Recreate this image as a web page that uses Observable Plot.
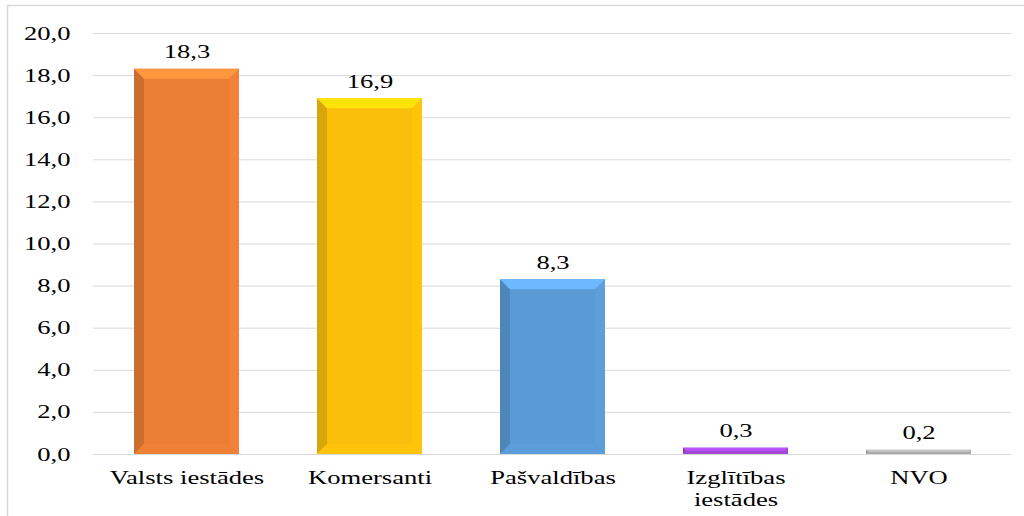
<!DOCTYPE html>
<html>
<head>
<meta charset="utf-8">
<script src="https://cdn.jsdelivr.net/npm/d3@7"></script>
<script src="https://cdn.jsdelivr.net/npm/@observablehq/plot@0.6"></script>
<style>
  html, body { margin: 0; padding: 0; background: #fff; }
  #chart { width: 1024px; height: 516px; overflow: hidden; }
  #chart svg, #chart svg text { font-family: "Liberation Serif", "Times New Roman", serif !important; }
</style>
</head>
<body>
<div id="chart"></div>
<script>
const categories = ["Valsts iestādes", "Komersanti", "Pašvaldības", "Izglītības iestādes", "NVO"];
const values = [18.3, 16.9, 8.3, 0.3, 0.2];
const yTicks = [0, 2, 4, 6, 8, 10, 12, 14, 16, 18, 20];
const palette = ["#EA7E35", "#F9BF0A", "#5B9BD5", "#9E45D0", "#A5A5A5"];

const data = categories.map((c, i) => ({category: c, value: values[i]}));
const fmt = v => d3.format(".1f")(v).replace(".", ",");
const font = "'Liberation Serif', 'Times New Roman', serif";

const plot = Plot.plot({
  width: 1024,
  height: 516,
  marginLeft: 93,
  marginRight: 13,
  marginTop: 33,
  marginBottom: 62,
  style: {fontFamily: font, fontSize: "19px", color: "#000", background: "#fff"},
  x: {domain: categories, paddingInner: 0.428, paddingOuter: 0.214, label: null},
  y: {domain: [0, 20], label: null},
  color: {domain: categories, range: palette},
  marks: [
    Plot.ruleY(yTicks, {stroke: "#d9d9d9", strokeWidth: 1}),
    Plot.barY(data, {x: "category", y: "value", fill: "category"}),
    Plot.text(data, {x: "category", y: "value", text: d => fmt(d.value), dy: -17, fontSize: 19, fill: "#000"}),
    Plot.axisY({ticks: yTicks, tickSize: 0, tickPadding: 23, tickFormat: fmt, fontSize: 19, label: null}),
    Plot.axisX({tickSize: 0, tickPadding: 13, fontSize: 19, lineHeight: 1.2, label: null,
      tickFormat: d => d === "Izglītības iestādes" ? "Izglītības\niestādes" : d})
  ]
});

document.getElementById("chart").appendChild(plot);

const svg = d3.select(plot);

// Reference text is horizontally stretched: widen each label around its anchor
svg.selectAll("text").each(function() {
  const t = d3.select(this);
  const tr = t.attr("transform");
  if (tr && tr.includes("translate")) t.attr("transform", tr + " scale(1.4,1)");
});

// Bevel effect on bars
svg.selectAll('g[aria-label="bar"] rect').each(function() {
  const r = d3.select(this);
  const x = +r.attr("x"), y = +r.attr("y"), w = +r.attr("width"), h = +r.attr("height");
  const base = d3.color(r.attr("fill"));
  const b = Math.min(10, h / 2);
  const g = d3.select(this.parentNode);
  const add = (pts, col) => g.append("polygon")
    .attr("points", pts.map(p => p.join(",")).join(" "))
    .attr("fill", col);
  add([[x, y], [x + b, y + b], [x + b, y + h - b], [x, y + h]], base.darker(0.4).formatHex());
  add([[x + w, y], [x + w - b, y + b], [x + w - b, y + h - b], [x + w, y + h]], base.brighter(0.08).formatHex());
  add([[x, y + h], [x + b, y + h - b], [x + w - b, y + h - b], [x + w, y + h]], base.brighter(0.06).formatHex());
  add([[x, y], [x + w, y], [x + w - b, y + b], [x + b, y + b]], base.brighter(0.5).formatHex());
});

// Outer chart border (decorative frame)
svg.insert("rect", ":first-child")
  .attr("x", 7.5).attr("y", 5.5).attr("width", 1040).attr("height", 540)
  .attr("fill", "none").attr("stroke", "#d9d9d9").attr("stroke-width", 1.5);
</script>
</body>
</html>
